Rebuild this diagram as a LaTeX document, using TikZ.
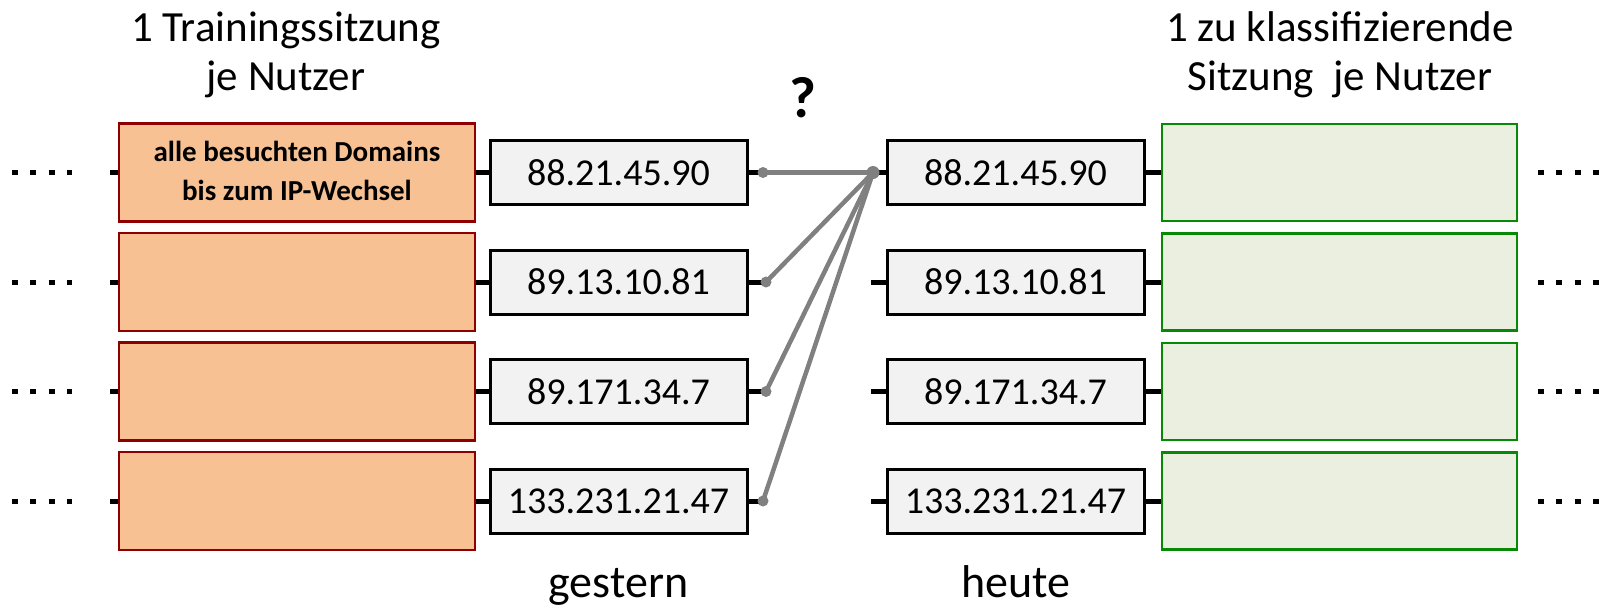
\documentclass[tikz,border=0pt]{standalone}
\usepackage{fontspec}
\setmainfont{Carlito}
\definecolor{orfill}{HTML}{F8C193}
\definecolor{ordraw}{HTML}{8E0000}
\definecolor{grfill}{HTML}{EBEFDF}
\definecolor{grdraw}{HTML}{068A06}
\definecolor{ipfill}{HTML}{F2F2F2}
\definecolor{connc}{HTML}{808080}
\begin{document}
\begin{tikzpicture}[x=1pt,y=-1pt,
  sess/.style={draw=ordraw,fill=orfill,line width=2.5pt,minimum width=356pt,minimum height=98pt,inner sep=0pt},
  cls/.style={draw=grdraw,fill=grfill,line width=2.5pt,minimum width=355pt,minimum height=97pt,inner sep=0pt},
  ipbox/.style={draw=black,fill=ipfill,line width=3pt,minimum width=257pt,minimum height=64pt,inner sep=0pt},
  iptext/.style={font=\fontsize{38}{45}\selectfont,inner sep=0pt},
  stub/.style={line width=5pt,black},
  dotline/.style={line width=5pt,black,dash pattern=on 6pt off 12.3pt},
  conn/.style={line width=4.5pt,connc,line cap=round},
  hdr/.style={font=\fontsize{43}{51}\selectfont,anchor=base,inner sep=0pt},
  lbl/.style={font=\fontsize{46}{54}\selectfont,anchor=base,inner sep=0pt}]
\useasboundingbox (0,0) rectangle (1605,606);
% rows
\foreach \i/\y in {1/172.5,2/282,3/391.5,4/501}{
  \node[sess] (o\i) at (297,\y) {};
  \node[ipbox] (a\i) at (618.5,\y) {};
  \node[ipbox] (b\i) at (1015.5,\y) {};
  \node[cls] (g\i) at (1339.5,\y) {};
  \coordinate (l\i) at (110,\y);
  \coordinate (ds\i) at (12,\y);
  \coordinate (de\i) at (72,\y);
  \coordinate (rs\i) at (1538,\y);
  \coordinate (re\i) at (1605,\y);
  \coordinate (s\i) at (871,\y);
  \draw[dotline] (ds\i) -- (de\i);
  \draw[dotline] (rs\i) -- (re\i);
  \draw[stub] (l\i) -- (o\i.west);
  \draw[stub] (o\i.east) -- (a\i.west);
  \draw[stub] (b\i.east) -- (g\i.west);
}
\node[iptext] (ta1) at (a1) {88.21.45.90};
\node[iptext] (ta2) at (a2) {89.13.10.81};
\node[iptext] (ta3) at (a3) {89.171.34.7};
\node[iptext] (ta4) at (a4) {133.231.21.47};
\node[iptext] (tb1) at (b1) {88.21.45.90};
\node[iptext] (tb2) at (b2) {89.13.10.81};
\node[iptext] (tb3) at (b3) {89.171.34.7};
\node[iptext] (tb4) at (b4) {133.231.21.47};
\node[align=center,font=\fontsize{29}{39}\selectfont\bfseries] (to1) at (297,171) {alle besuchten Domains\\bis zum IP-Wechsel};
% dots and connectors
\coordinate (d1) at (763,172.5);
\coordinate (d2) at (766,282);
\coordinate (d3) at (766,391.5);
\coordinate (d4) at (763,501);
\coordinate (hub) at (873,172.5);
\foreach \i in {1,2,3,4}{
  \draw[stub] (a\i.east) -- (d\i);
}
\foreach \i in {2,3,4}{
  \draw[stub] (s\i) -- (b\i.west);
}
\draw[stub] (hub) -- (b1.west);
\foreach \i in {1,2,3,4}{
  \draw[conn] (d\i) -- (hub);
  \fill[connc] (d\i) circle (5.5pt);
}
\fill[connc] (hub) circle (6.5pt);
% labels
\node[hdr] (h1) at (286,41) {1 Trainingssitzung};
\node[hdr] (h2) at (286,90) {je Nutzer};
\node[hdr] (h3) at (1340,41) {1 zu klassifizierende};
\node[hdr] (h4) at (1340,90) {Sitzung\ \ je Nutzer};
\node[font=\fontsize{58}{62}\selectfont\bfseries,anchor=base,inner sep=0pt] (q) at (803,117) {?};
\node[lbl] (gest) at (618.5,597) {gestern};
\node[lbl] (heu) at (1015.5,597) {heute};
\end{tikzpicture}
\end{document}
